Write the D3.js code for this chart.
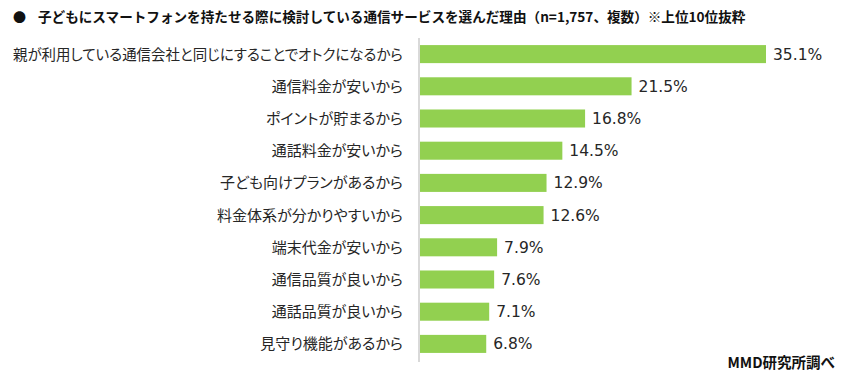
<!DOCTYPE html>
<html><head><meta charset="utf-8">
<script src="https://cdn.jsdelivr.net/npm/d3@7"></script>
<style>body{margin:0;background:#fff;} .cat{font-feature-settings:"palt" 1;}</style>
</head><body>
<svg id="c" width="845" height="380"></svg>
<script>
const categories = ["親が利用している通信会社と同じにすることでオトクになるから","通信料金が安いから","ポイントが貯まるから","通話料金が安いから","子ども向けプランがあるから","料金体系が分かりやすいから","端末代金が安いから","通信品質が良いから","通話品質が良いから","見守り機能があるから"];
const values = [35.1,21.5,16.8,14.5,12.9,12.6,7.9,7.6,7.1,6.8];
const title = "子どもにスマートフォンを持たせる際に検討している通信サービスを選んだ理由（n=1,757、複数）※上位10位抜粋";
const source = "MMD研究所調べ";

const svg = d3.select("#c");
const x0 = 419;
const labelRight = 403, labelMaxW = 390;
const x = d3.scaleLinear().domain([0, 35.1]).range([x0, 766]);
const y = d3.scaleBand().domain(categories).range([38, 360]).paddingInner(0.44).paddingOuter(0.22);

svg.append("text").attr("x", 13).attr("y", 22).attr("font-family","'Noto Sans CJK JP'").attr("font-size", 13).attr("font-weight","bold").attr("fill","#111").text("●");
svg.append("text").attr("x", 38).attr("y", 22).attr("font-family","'Noto Sans CJK JP'").attr("font-size", 13.6).attr("font-weight","bold").attr("fill","#111").text(title);

svg.selectAll("rect.bar").data(values).enter().append("rect")
  .attr("class","bar")
  .attr("x", x0)
  .attr("y", (d,i)=>y(categories[i]))
  .attr("width", d=>x(d)-x0)
  .attr("height", y.bandwidth())
  .attr("fill","#92d050");

svg.append("line").attr("x1", x0).attr("x2", x0).attr("y1", 38).attr("y2", 362).attr("stroke","#d9d9d9").attr("stroke-width",2);

svg.selectAll("text.cat").data(categories).enter().append("text")
  .attr("class","cat")
  .attr("x", labelRight)
  .attr("y", d=>y(d)+y.bandwidth()/2)
  .attr("dy","0.36em")
  .attr("text-anchor","end")
  .attr("font-family","'Noto Sans CJK JP'")
  .attr("font-size", 15)
  .attr("fill","#262626")
  .text(d=>d)
  .each(function(){
    if (this.getComputedTextLength() > labelMaxW) {
      d3.select(this).attr("textLength", labelMaxW).attr("lengthAdjust","spacingAndGlyphs");
    }
  });

svg.selectAll("text.val").data(values).enter().append("text")
  .attr("class","val")
  .attr("x", d=>x(d)+7)
  .attr("y", (d,i)=>y(categories[i])+y.bandwidth()/2)
  .attr("dy","0.36em")
  .attr("font-family","'DejaVu Sans'")
  .attr("font-size", 15.5)
  .attr("fill","#262626")
  .text(d=>d.toFixed(1)+"%");

svg.append("text").attr("x", 835).attr("y", 368).attr("text-anchor","end").attr("font-family","'Noto Sans CJK JP'").attr("font-size", 14.5).attr("font-weight","bold").attr("fill","#111").text(source);
</script>
</body></html>
